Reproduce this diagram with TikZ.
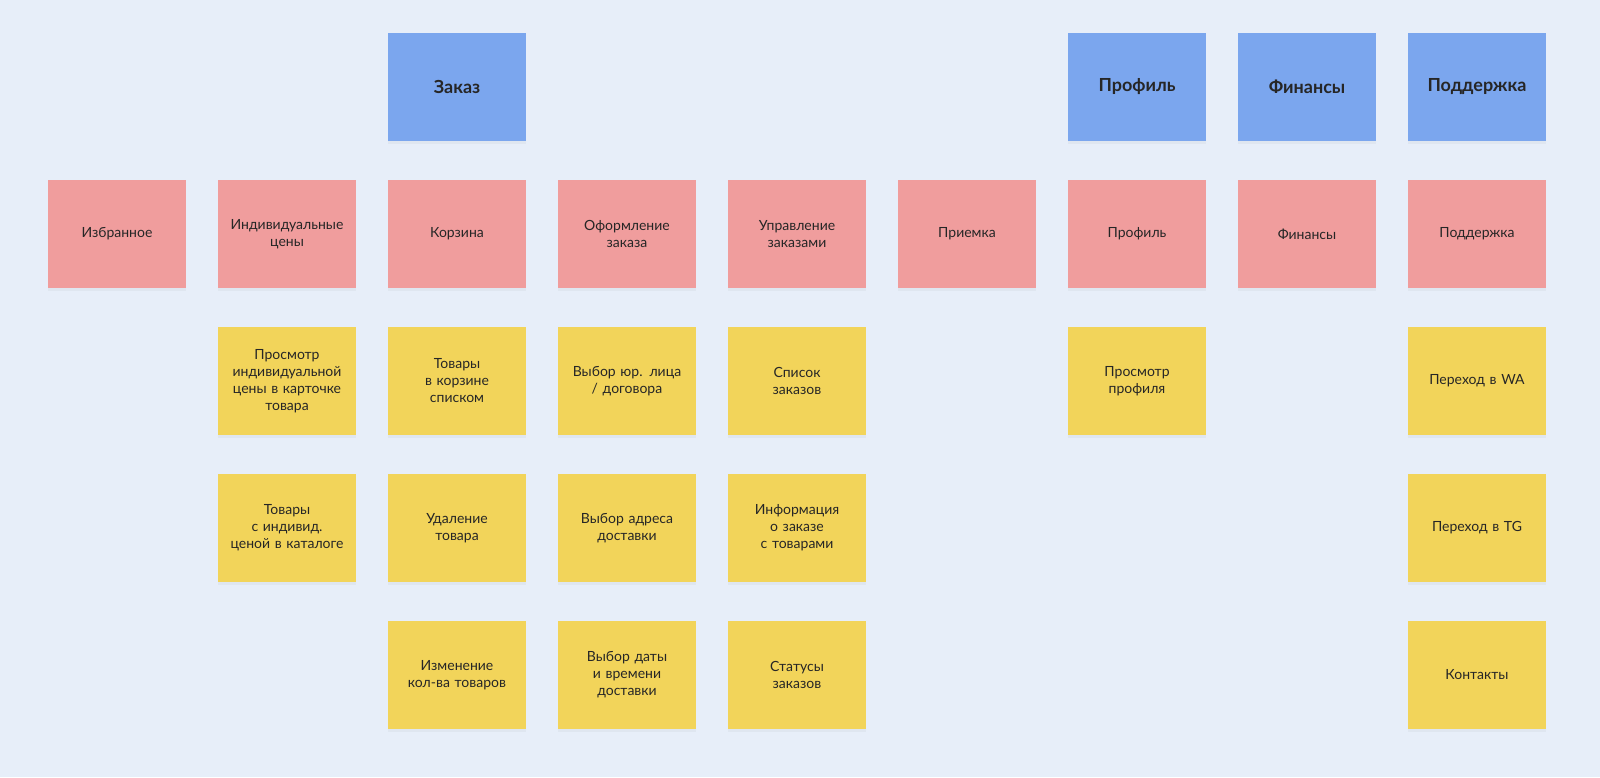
\documentclass[tikz,border=0pt]{standalone}
\usepackage{fontspec}
\setmainfont{Lato}
\usetikzlibrary{shadows}
\definecolor{bg}{HTML}{E7EEF9}
\definecolor{bluec}{HTML}{7BA6EE}
\definecolor{redc}{HTML}{F09D9D}
\definecolor{yelc}{HTML}{F2D45A}
\tikzset{
 card/.style={minimum width=138pt,minimum height=108pt,inner sep=4pt,text width=130pt,align=center,
   font=\fontsize{14}{17}\selectfont,text=black!85,
   drop shadow={shadow xshift=0pt,shadow yshift=-3pt,opacity=0.06,fill=black!60}},
 bl/.style={card,fill=bluec,font=\fontsize{18}{21}\selectfont\bfseries},
 rd/.style={card,fill=redc},
 yl/.style={card,fill=yelc},
}
\begin{document}
\begin{tikzpicture}[x=1pt,y=-1pt]
\fill[bg] (0,0) rectangle (1600,777);
\useasboundingbox (0,0) rectangle (1600,777);
% blue
\node[bl] (b1) at (457,87) {Заказ};
\node[bl] (b2) at (1137,87) {Профиль};
\node[bl] (b3) at (1307,87) {Финансы};
\node[bl] (b4) at (1477,87) {Поддержка};
% red
\node[rd] (r1) at (117,234) {Избранное};
\node[rd] (r2) at (287,234) {Индивидуальные\\цены};
\node[rd] (r3) at (457,234) {Корзина};
\node[rd] (r4) at (627,234) {Оформление\\заказа};
\node[rd] (r5) at (797,234) {Управление\\заказами};
\node[rd] (r6) at (967,234) {Приемка};
\node[rd] (r7) at (1137,234) {Профиль};
\node[rd] (r8) at (1307,234) {Финансы};
\node[rd] (r9) at (1477,234) {Поддержка};
% yellow row 1
\node[yl] (y21) at (287,381) {Просмотр\\индивидуальной\\цены в карточке\\товара};
\node[yl] (y31) at (457,381) {Товары\\в корзине\\списком};
\node[yl] (y41) at (627,381) {Выбор юр. лица\\/ договора};
\node[yl] (y51) at (797,381) {Список\\заказов};
\node[yl] (y71) at (1137,381) {Просмотр\\профиля};
\node[yl] (y91) at (1477,381) {Переход в WA};
% row 2
\node[yl] (y22) at (287,528) {Товары\\с индивид.\\ценой в каталоге};
\node[yl] (y32) at (457,528) {Удаление\\товара};
\node[yl] (y42) at (627,528) {Выбор адреса\\доставки};
\node[yl] (y52) at (797,528) {Информация\\о заказе\\с товарами};
\node[yl] (y92) at (1477,528) {Переход в TG};
% row 3
\node[yl] (y33) at (457,675) {Изменение\\кол-ва товаров};
\node[yl] (y43) at (627,675) {Выбор даты\\и времени\\доставки};
\node[yl] (y53) at (797,675) {Статусы\\заказов};
\node[yl] (y93) at (1477,675) {Контакты};
\end{tikzpicture}
\end{document}
